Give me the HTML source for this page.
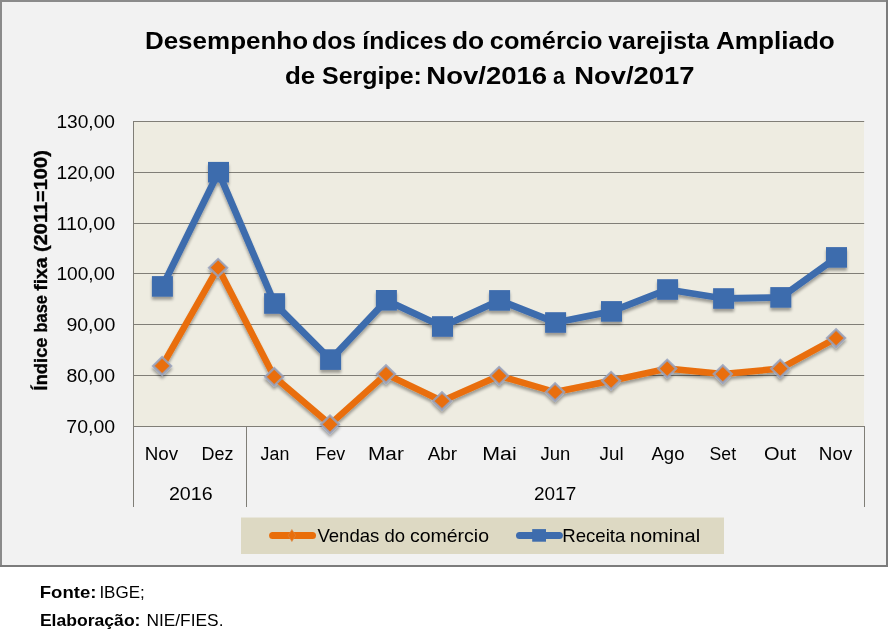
<!DOCTYPE html>
<html><head><meta charset="utf-8"><title>Chart</title>
<style>
html,body{margin:0;padding:0;background:#fff;}
body{width:888px;height:644px;overflow:hidden;font-family:"Liberation Sans",sans-serif;}
svg{display:block;}
text{font-family:"Liberation Sans",sans-serif;fill:#000;}
.b{font-weight:bold;}
</style></head><body>
<svg width="888" height="644" viewBox="0 0 888 644">
<defs>
<filter id="sh" x="-5%" y="-5%" width="110%" height="115%">
<feGaussianBlur in="SourceAlpha" stdDeviation="1.6"/>
<feOffset dx="0" dy="2.5" result="o"/>
<feComponentTransfer><feFuncA type="linear" slope="0.35"/></feComponentTransfer>
<feMerge><feMergeNode/><feMergeNode in="SourceGraphic"/></feMerge>
</filter>
</defs>
<rect x="0" y="0" width="888" height="644" fill="#ffffff"/>

<rect x="0" y="0" width="888" height="567" fill="#7c7c7c"/>
<rect x="0" y="0" width="886" height="565" fill="#8b8b8b"/>
<rect x="2" y="2" width="884" height="563" fill="#f2f2f2"/>
<rect x="133" y="121" width="731" height="306" fill="#eeece1"/>
<line x1="133.0" y1="121.50" x2="864.2" y2="121.50" stroke="#807e77" stroke-width="1"/>
<line x1="133.0" y1="172.50" x2="864.2" y2="172.50" stroke="#807e77" stroke-width="1"/>
<line x1="133.0" y1="223.50" x2="864.2" y2="223.50" stroke="#807e77" stroke-width="1"/>
<line x1="133.0" y1="273.50" x2="864.2" y2="273.50" stroke="#807e77" stroke-width="1"/>
<line x1="133.0" y1="324.50" x2="864.2" y2="324.50" stroke="#807e77" stroke-width="1"/>
<line x1="133.0" y1="375.50" x2="864.2" y2="375.50" stroke="#807e77" stroke-width="1"/>
<line x1="133.0" y1="426.50" x2="865" y2="426.50" stroke="#807e77" stroke-width="1"/>
<line x1="133.5" y1="121.0" x2="133.5" y2="507" stroke="#807e77" stroke-width="1"/>
<line x1="246.5" y1="426.5" x2="246.5" y2="507" stroke="#807e77" stroke-width="1"/>
<line x1="864.5" y1="426.5" x2="864.5" y2="507" stroke="#807e77" stroke-width="1"/>
<g filter="url(#sh)">
<polyline points="162.1,365.9 218.1,267.7 274.2,376.8 330.0,424.3 386.0,374.1 442.0,401.0 499.1,375.8 555.1,392.0 611.1,380.7 667.2,368.6 722.8,374.1 780.2,368.6 836.1,338.1" fill="none" stroke="#e96e0a" stroke-width="6.5" stroke-linejoin="round" stroke-linecap="round"/>
<path d="M162.1 357.2L171.1 365.9L162.1 374.6L153.1 365.9Z" fill="#e96e0a" stroke="#97a2be" stroke-opacity="0.85" stroke-width="2.3" stroke-linejoin="miter"/>
<path d="M218.1 259.0L227.1 267.7L218.1 276.4L209.1 267.7Z" fill="#e96e0a" stroke="#97a2be" stroke-opacity="0.85" stroke-width="2.3" stroke-linejoin="miter"/>
<path d="M274.2 368.1L283.2 376.8L274.2 385.5L265.2 376.8Z" fill="#e96e0a" stroke="#97a2be" stroke-opacity="0.85" stroke-width="2.3" stroke-linejoin="miter"/>
<path d="M330.0 415.6L339.0 424.3L330.0 433.0L321.0 424.3Z" fill="#e96e0a" stroke="#97a2be" stroke-opacity="0.85" stroke-width="2.3" stroke-linejoin="miter"/>
<path d="M386.0 365.4L395.0 374.1L386.0 382.8L377.0 374.1Z" fill="#e96e0a" stroke="#97a2be" stroke-opacity="0.85" stroke-width="2.3" stroke-linejoin="miter"/>
<path d="M442.0 392.3L451.0 401.0L442.0 409.7L433.0 401.0Z" fill="#e96e0a" stroke="#97a2be" stroke-opacity="0.85" stroke-width="2.3" stroke-linejoin="miter"/>
<path d="M499.1 367.1L508.1 375.8L499.1 384.5L490.1 375.8Z" fill="#e96e0a" stroke="#97a2be" stroke-opacity="0.85" stroke-width="2.3" stroke-linejoin="miter"/>
<path d="M555.1 383.3L564.1 392.0L555.1 400.7L546.1 392.0Z" fill="#e96e0a" stroke="#97a2be" stroke-opacity="0.85" stroke-width="2.3" stroke-linejoin="miter"/>
<path d="M611.1 372.0L620.1 380.7L611.1 389.4L602.1 380.7Z" fill="#e96e0a" stroke="#97a2be" stroke-opacity="0.85" stroke-width="2.3" stroke-linejoin="miter"/>
<path d="M667.2 359.9L676.2 368.6L667.2 377.3L658.2 368.6Z" fill="#e96e0a" stroke="#97a2be" stroke-opacity="0.85" stroke-width="2.3" stroke-linejoin="miter"/>
<path d="M722.8 365.4L731.8 374.1L722.8 382.8L713.8 374.1Z" fill="#e96e0a" stroke="#97a2be" stroke-opacity="0.85" stroke-width="2.3" stroke-linejoin="miter"/>
<path d="M780.2 359.9L789.2 368.6L780.2 377.3L771.2 368.6Z" fill="#e96e0a" stroke="#97a2be" stroke-opacity="0.85" stroke-width="2.3" stroke-linejoin="miter"/>
<path d="M836.1 329.4L845.1 338.1L836.1 346.8L827.1 338.1Z" fill="#e96e0a" stroke="#97a2be" stroke-opacity="0.85" stroke-width="2.3" stroke-linejoin="miter"/>
</g>
<g filter="url(#sh)">
<polyline points="162.4,286.4 218.5,172.2 274.6,303.5 330.6,359.6 386.4,300.3 442.5,326.5 499.6,300.4 555.6,322.5 611.5,311.4 667.6,289.5 723.6,298.5 780.8,297.4 836.5,257.4" fill="none" stroke="#3e6cad" stroke-width="6.8" stroke-linejoin="round" stroke-linecap="round"/>
<rect x="151.9" y="276.1" width="21" height="20.6" fill="#3e6cad"/>
<rect x="208.0" y="161.9" width="21" height="20.6" fill="#3e6cad"/>
<rect x="264.1" y="293.2" width="21" height="20.6" fill="#3e6cad"/>
<rect x="320.1" y="349.3" width="21" height="20.6" fill="#3e6cad"/>
<rect x="375.9" y="290.0" width="21" height="20.6" fill="#3e6cad"/>
<rect x="432.0" y="316.2" width="21" height="20.6" fill="#3e6cad"/>
<rect x="489.1" y="290.1" width="21" height="20.6" fill="#3e6cad"/>
<rect x="545.1" y="312.2" width="21" height="20.6" fill="#3e6cad"/>
<rect x="601.0" y="301.1" width="21" height="20.6" fill="#3e6cad"/>
<rect x="657.1" y="279.2" width="21" height="20.6" fill="#3e6cad"/>
<rect x="713.1" y="288.2" width="21" height="20.6" fill="#3e6cad"/>
<rect x="770.3" y="287.1" width="21" height="20.6" fill="#3e6cad"/>
<rect x="826.0" y="247.1" width="21" height="20.6" fill="#3e6cad"/>
</g>
<g opacity="0.999">
<text x="144.9" y="49.0" font-size="23.8" text-anchor="start" textLength="163.2" lengthAdjust="spacingAndGlyphs" class="b">Desempenho</text>
<text x="312.0" y="49.0" font-size="23.8" text-anchor="start" textLength="44.1" lengthAdjust="spacingAndGlyphs" class="b">dos</text>
<text x="362.3" y="49.0" font-size="23.8" text-anchor="start" textLength="84.7" lengthAdjust="spacingAndGlyphs" class="b">índices</text>
<text x="451.9" y="49.0" font-size="23.8" text-anchor="start" textLength="32.2" lengthAdjust="spacingAndGlyphs" class="b">do</text>
<text x="489.8" y="49.0" font-size="23.8" text-anchor="start" textLength="112.6" lengthAdjust="spacingAndGlyphs" class="b">comércio</text>
<text x="608.3" y="49.0" font-size="23.8" text-anchor="start" textLength="100.9" lengthAdjust="spacingAndGlyphs" class="b">varejista</text>
<text x="715.9" y="49.0" font-size="23.8" text-anchor="start" textLength="118.9" lengthAdjust="spacingAndGlyphs" class="b">Ampliado</text>
<text x="285.0" y="83.8" font-size="23.8" text-anchor="start" textLength="30.3" lengthAdjust="spacingAndGlyphs" class="b">de</text>
<text x="322.0" y="83.8" font-size="23.8" text-anchor="start" textLength="99.9" lengthAdjust="spacingAndGlyphs" class="b">Sergipe:</text>
<text x="426.3" y="83.8" font-size="23.8" text-anchor="start" textLength="120.8" lengthAdjust="spacingAndGlyphs" class="b">Nov/2016</text>
<text x="553.0" y="83.8" font-size="23.8" text-anchor="start" textLength="12.0" lengthAdjust="spacingAndGlyphs" class="b">a</text>
<text x="574.2" y="83.8" font-size="23.8" text-anchor="start" textLength="120.4" lengthAdjust="spacingAndGlyphs" class="b">Nov/2017</text>
<text x="56.4" y="127.7" font-size="17.6" text-anchor="start" textLength="58.6" lengthAdjust="spacingAndGlyphs">130,00</text>
<text x="56.4" y="178.7" font-size="17.6" text-anchor="start" textLength="58.6" lengthAdjust="spacingAndGlyphs">120,00</text>
<text x="56.5" y="229.7" font-size="17.6" text-anchor="start" textLength="58.7" lengthAdjust="spacingAndGlyphs">110,00</text>
<text x="56.4" y="279.7" font-size="17.6" text-anchor="start" textLength="58.6" lengthAdjust="spacingAndGlyphs">100,00</text>
<text x="66.4" y="330.7" font-size="17.6" text-anchor="start" textLength="48.9" lengthAdjust="spacingAndGlyphs">90,00</text>
<text x="66.4" y="381.7" font-size="17.6" text-anchor="start" textLength="48.8" lengthAdjust="spacingAndGlyphs">80,00</text>
<text x="66.3" y="432.7" font-size="17.6" text-anchor="start" textLength="48.8" lengthAdjust="spacingAndGlyphs">70,00</text>
<text transform="translate(47.0,390.4) rotate(-90)" x="0" y="0" font-size="17.7" textLength="52.9" lengthAdjust="spacingAndGlyphs" class="b" stroke="#000" stroke-width="0.35">Índice</text>
<text transform="translate(47.0,332.4) rotate(-90)" x="0" y="0" font-size="17.7" textLength="37.3" lengthAdjust="spacingAndGlyphs" class="b" stroke="#000" stroke-width="0.35">base</text>
<text transform="translate(47.0,290.8) rotate(-90)" x="0" y="0" font-size="17.7" textLength="33.3" lengthAdjust="spacingAndGlyphs" class="b" stroke="#000" stroke-width="0.35">fixa</text>
<text transform="translate(47.0,252.0) rotate(-90)" x="0" y="0" font-size="17.7" textLength="101.8" lengthAdjust="spacingAndGlyphs" class="b" stroke="#000" stroke-width="0.35">(2011=100)</text>
<text x="144.8" y="460.0" font-size="17.6" text-anchor="start" textLength="33.4" lengthAdjust="spacingAndGlyphs">Nov</text>
<text x="201.6" y="460.0" font-size="17.6" text-anchor="start" textLength="31.9" lengthAdjust="spacingAndGlyphs">Dez</text>
<text x="260.6" y="460.0" font-size="17.6" text-anchor="start" textLength="28.7" lengthAdjust="spacingAndGlyphs">Jan</text>
<text x="315.6" y="460.0" font-size="17.6" text-anchor="start" textLength="29.7" lengthAdjust="spacingAndGlyphs">Fev</text>
<text x="368.0" y="460.0" font-size="17.6" text-anchor="start" textLength="35.9" lengthAdjust="spacingAndGlyphs">Mar</text>
<text x="427.8" y="460.0" font-size="17.6" text-anchor="start" textLength="29.3" lengthAdjust="spacingAndGlyphs">Abr</text>
<text x="482.3" y="460.0" font-size="17.6" text-anchor="start" textLength="34.4" lengthAdjust="spacingAndGlyphs">Mai</text>
<text x="540.6" y="460.0" font-size="17.6" text-anchor="start" textLength="29.8" lengthAdjust="spacingAndGlyphs">Jun</text>
<text x="599.6" y="460.0" font-size="17.6" text-anchor="start" textLength="24.0" lengthAdjust="spacingAndGlyphs">Jul</text>
<text x="651.5" y="460.0" font-size="17.6" text-anchor="start" textLength="33.0" lengthAdjust="spacingAndGlyphs">Ago</text>
<text x="709.6" y="460.0" font-size="17.6" text-anchor="start" textLength="26.5" lengthAdjust="spacingAndGlyphs">Set</text>
<text x="763.9" y="460.0" font-size="17.6" text-anchor="start" textLength="32.2" lengthAdjust="spacingAndGlyphs">Out</text>
<text x="818.8" y="460.0" font-size="17.6" text-anchor="start" textLength="33.5" lengthAdjust="spacingAndGlyphs">Nov</text>
<text x="168.9" y="499.9" font-size="17.6" text-anchor="start" textLength="43.7" lengthAdjust="spacingAndGlyphs">2016</text>
<text x="534.0" y="499.9" font-size="17.6" text-anchor="start" textLength="42.2" lengthAdjust="spacingAndGlyphs">2017</text>
</g>
<rect x="241" y="517.5" width="483" height="36.5" fill="#ddd9c3"/>
<line x1="272.6" y1="535.4" x2="312.5" y2="535.4" stroke="#e96e0a" stroke-width="7" stroke-linecap="round"/>
<path d="M291.9 529.4L295.6 535.4L291.9 541.6L288.2 535.4Z" fill="#e96e0a" stroke="#d9894a" stroke-width="0.6"/>
<g opacity="0.999">
<text x="317.4" y="541.9" font-size="19" text-anchor="start" textLength="62.0" lengthAdjust="spacingAndGlyphs">Vendas</text>
<text x="384.4" y="541.9" font-size="19" text-anchor="start" textLength="20.6" lengthAdjust="spacingAndGlyphs">do</text>
<text x="409.9" y="541.9" font-size="19" text-anchor="start" textLength="79.1" lengthAdjust="spacingAndGlyphs">comércio</text>
<line x1="519.5" y1="535.4" x2="559.4" y2="535.4" stroke="#3e6cad" stroke-width="7" stroke-linecap="round"/>
<rect x="532.2" y="529.1" width="13.8" height="12.6" fill="#3e6cad"/>
<text x="562.2" y="541.9" font-size="19" text-anchor="start" textLength="63.1" lengthAdjust="spacingAndGlyphs">Receita</text>
<text x="629.8" y="541.9" font-size="19" text-anchor="start" textLength="70.3" lengthAdjust="spacingAndGlyphs">nominal</text>
</g>
<g opacity="0.999">
<text x="39.8" y="597.5" font-size="16.2" text-anchor="start" textLength="56.6" lengthAdjust="spacingAndGlyphs" class="b">Fonte:</text>
<text x="99.4" y="597.5" font-size="16.2" text-anchor="start" textLength="45.4" lengthAdjust="spacingAndGlyphs">IBGE;</text>
<text x="39.9" y="625.6" font-size="16.2" text-anchor="start" textLength="100.6" lengthAdjust="spacingAndGlyphs" class="b">Elaboração:</text>
<text x="146.4" y="625.6" font-size="16.2" text-anchor="start" textLength="77.1" lengthAdjust="spacingAndGlyphs">NIE/FIES.</text>
</g>
</svg></body></html>
